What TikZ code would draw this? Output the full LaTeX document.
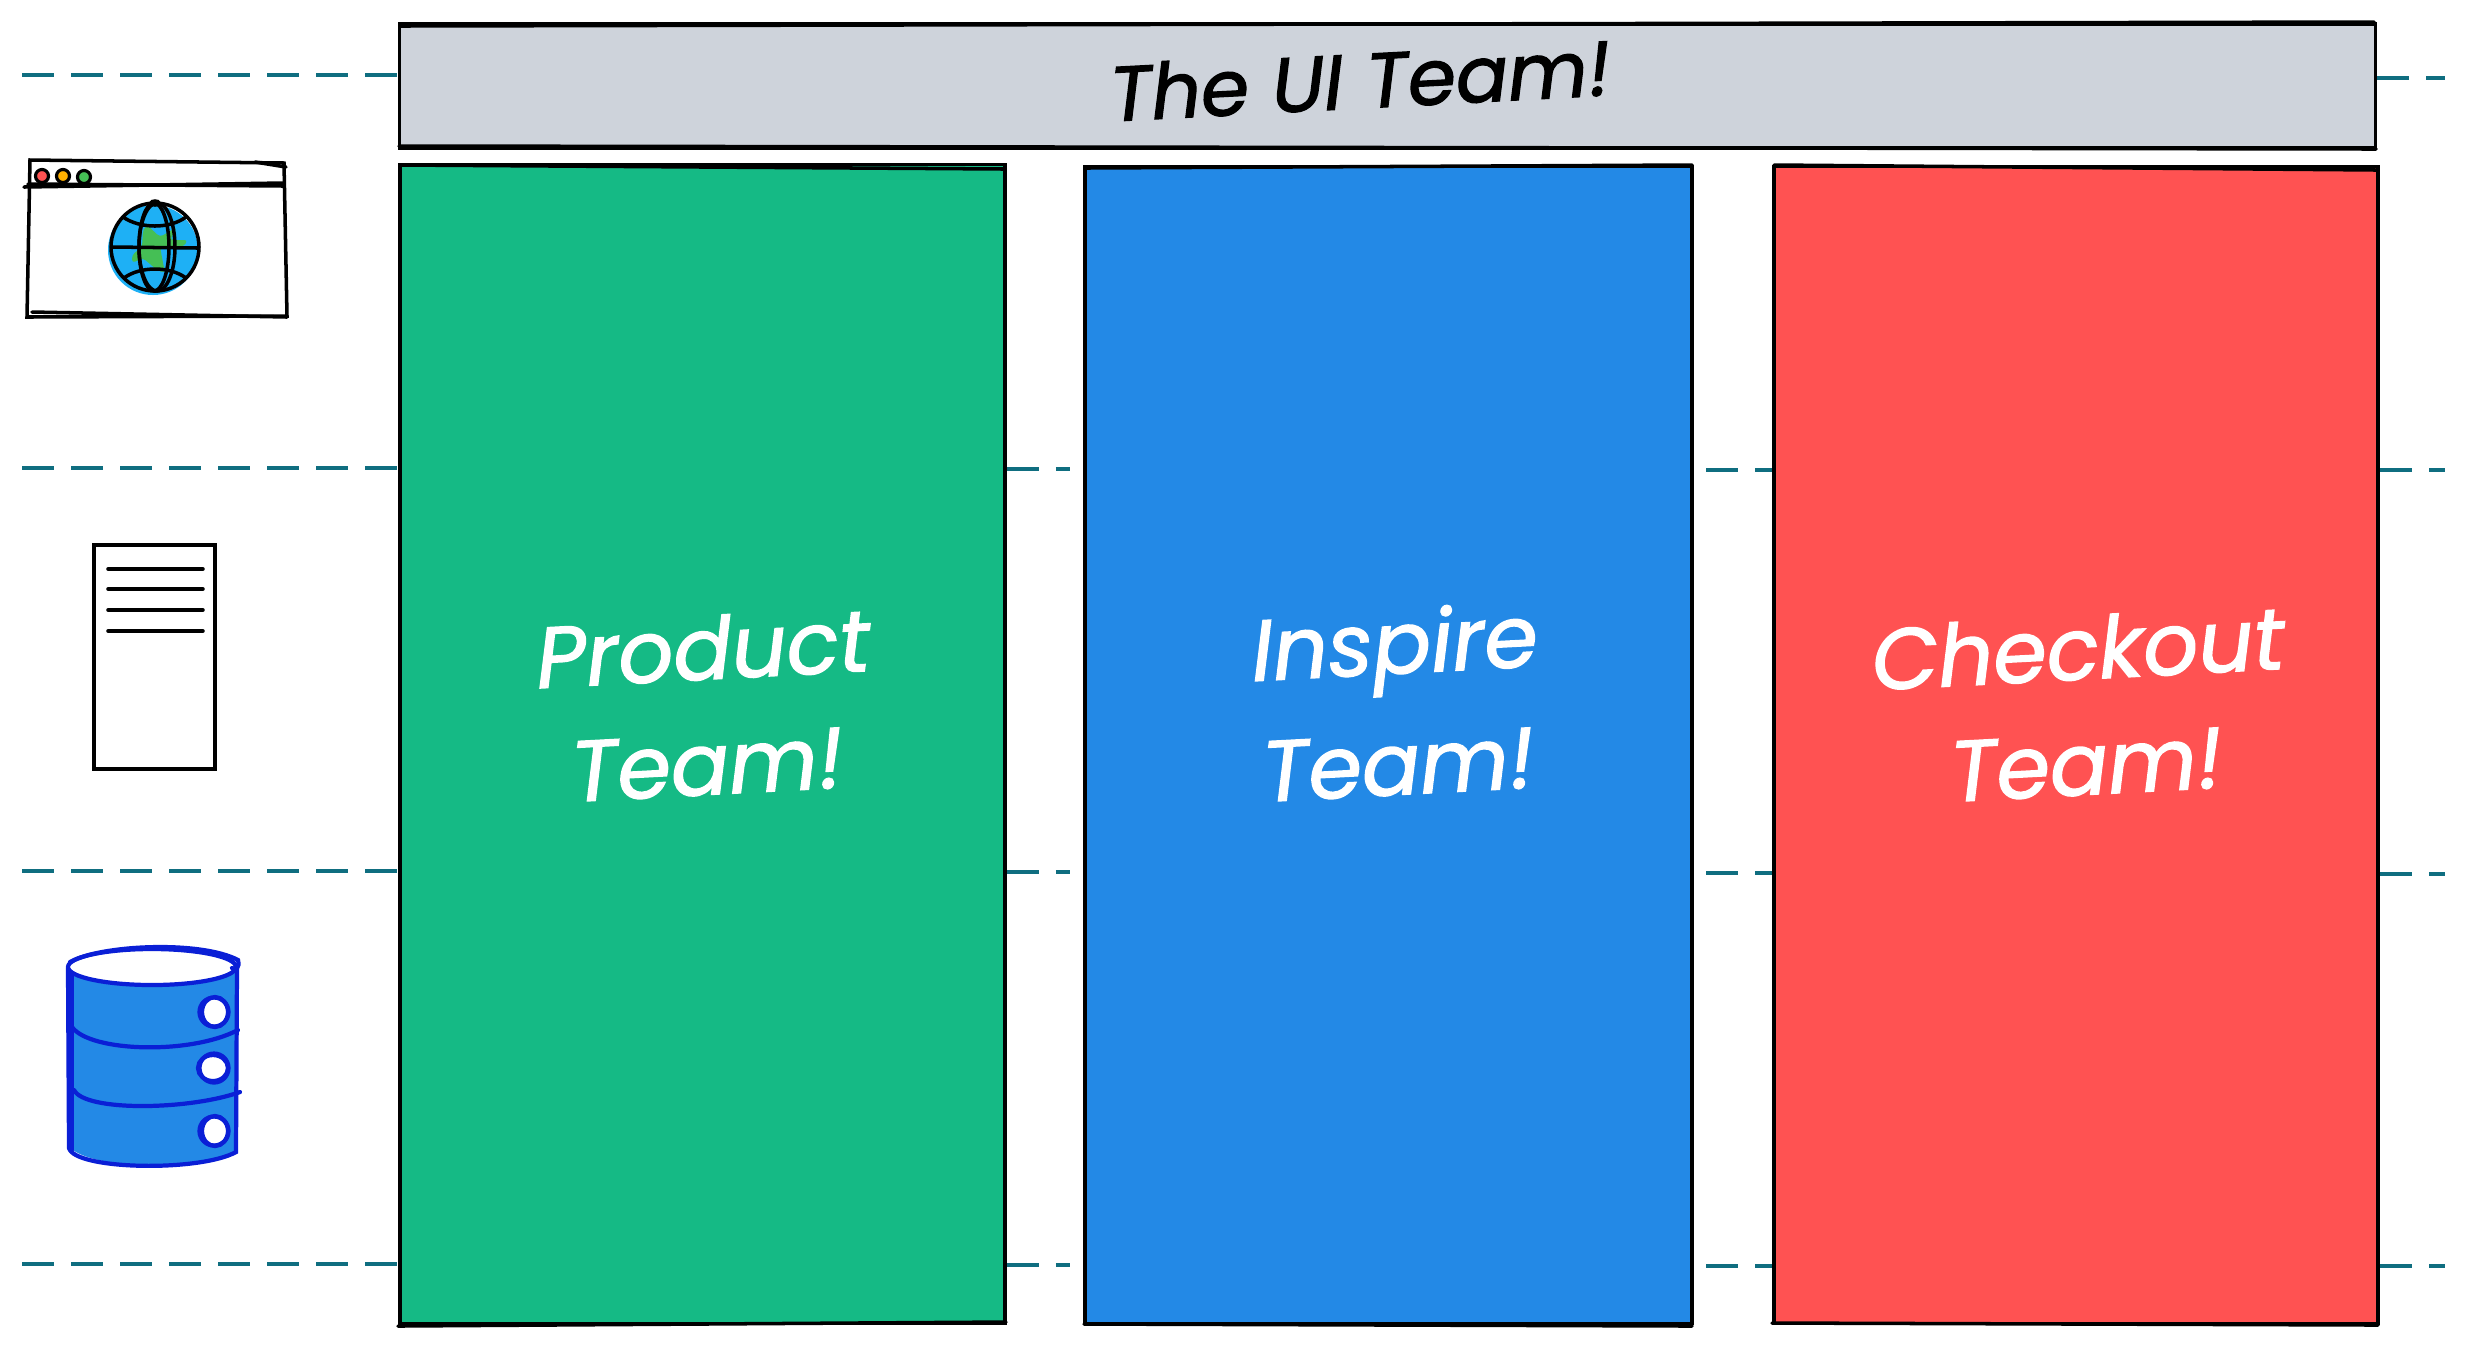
\documentclass[tikz,border=0pt]{standalone}
\usepackage{fontspec}
\setmainfont{Poppins}
\newfontfamily\handfont{Poppins}[ItalicFeatures={FakeBold=1.6}]
\definecolor{cgreen}{HTML}{15BA85}
\definecolor{cblue}{HTML}{2389E6}
\definecolor{cred}{HTML}{FF5252}
\definecolor{cgrey}{HTML}{CED3DB}
\definecolor{cteal}{HTML}{0F6E80}
\definecolor{cdb}{HTML}{0A1FD6}
\definecolor{cdbfill}{HTML}{2389E6}
\definecolor{csea}{HTML}{1EB0F5}
\definecolor{cland}{HTML}{45BF55}
\definecolor{cdot}{HTML}{FF5252}
\definecolor{camber}{HTML}{FFB000}
\tikzset{
  teambox/.style={rectangle,draw=black,line width=1pt,inner sep=0pt,text=white},
  hand/.style={font=\handfont\fontsize{24.5}{28}\selectfont\itshape,inner sep=0pt},
  handt/.style={font=\handfont\fontsize{22}{26}\selectfont\itshape,inner sep=0pt},
  handw/.style={hand,text=white},
  guide/.style={draw=cteal,line width=1.35pt,dash pattern=on 0.32cm off 0.17cm},
  sk/.style={draw=black,line width=1pt,line cap=round},
  dbl/.style={draw=cdb,line width=1.2pt,line cap=round},
  dot/.style={circle,draw=black,line width=0.9pt,minimum size=0.13cm,inner sep=0pt},
  hole/.style={circle,draw=cdb,fill=white,line width=1.2pt,minimum size=0.29cm,inner sep=0pt},
}
\begin{document}
\begin{tikzpicture}[x=0.01cm,y=-0.01cm]
\useasboundingbox (0,0) rectangle (2486,1347.5);
% boxes
\node[teambox,fill=cgrey,minimum width=19.75cm,minimum height=1.24cm] (ui) at (1387.5,86) {};
\node[teambox,fill=cgreen,minimum width=6.05cm,minimum height=11.58cm] (product) at (702.5,744) {};
\node[teambox,fill=cblue,minimum width=6.07cm,minimum height=11.56cm] (inspire) at (1388.5,745) {};
\node[teambox,fill=cred,minimum width=6.04cm,minimum height=11.56cm] (checkout) at (2076,745) {};
% sketch double strokes
\draw[sk] (401,26) -- (2374,22) (399,146) -- (2376,149) (401,165) -- (1004,169) (398,1326) -- (1006,1322)
 (1086,168) -- (1692,165) (1084,1324) -- (1692,1326) (1774,165) -- (2376,170) (1772,1323) -- (2378,1325);
% labels
\node[handt,rotate=3] (uil) at (1360,80) {The UI Team!};
\node[handw,rotate=3] (p1) at (703,648) {Product};
\node[handw,rotate=3] (p2) at (707,765) {Team!};
\node[handw,rotate=3] (i1) at (1395,652) {Inspire};
\node[handw,rotate=3] (i2) at (1398,765) {Team!};
\node[handw,rotate=3] (c1) at (2078,648) {Checkout};
\node[handw,rotate=3] (c2) at (2086,765) {Team!};
% guides
\coordinate (l1) at (22,75);
\coordinate (l2) at (22,468);
\coordinate (l3) at (22,871);
\coordinate (l4) at (22,1264);
\coordinate (r1) at (2445,78);
\coordinate (r2) at (2445,470);
\coordinate (r3) at (2445,874);
\coordinate (r4) at (2445,1266);
\coordinate (a2) at (1070,469);
\coordinate (a3) at (1070,872);
\coordinate (a4) at (1070,1265);
\coordinate (b2) at (1772,470);
\coordinate (b3) at (1772,873);
\coordinate (b4) at (1772,1266);
\draw[guide] (l1) -- (ui.west |- l1);
\draw[guide] (l2) -- (product.west |- l2);
\draw[guide] (l3) -- (product.west |- l3);
\draw[guide] (l4) -- (product.west |- l4);
\draw[guide] (ui.east |- r1) -- (r1);
\draw[guide] (product.east |- a2) -- (a2);
\draw[guide] (product.east |- a3) -- (a3);
\draw[guide] (product.east |- a4) -- (a4);
\draw[guide] (b2) ++(-66,0) -- (b2);
\draw[guide] (b3) ++(-66,0) -- (b3);
\draw[guide] (b4) ++(-66,0) -- (b4);
\draw[guide] (checkout.east |- r2) -- (r2);
\draw[guide] (checkout.east |- r3) -- (r3);
\draw[guide] (checkout.east |- r4) -- (r4);
% browser window
\draw[sk] (30,160) -- (284,163) -- (287,316) -- (27,317) -- cycle;
\draw[sk] (24,187) -- (283,183) (28,184) -- (284,186) (32,312) -- (287,317) (255,162) -- (286,167);
\node[dot,fill=cdot] (d1) at (42,176) {};
\node[dot,fill=camber] (d2) at (63,176) {};
\node[dot,fill=cland] (d3) at (84,177) {};
% globe
\fill[csea] (153,250) circle[radius=45];
\fill[cland,rounded corners=1pt] (147,225) -- (160,237) -- (177,227) -- (170,240) -- (188,240) -- (183,247) -- (160,247) -- (165,273) -- (157,270) -- (143,258) -- (132,263) -- (132,255) -- (142,247) -- (143,230) -- cycle;
\draw[sk] (155,247) circle[radius=44];
\draw[sk] (155,203) ellipse[x radius=4,y radius=2];
\draw[sk] (157,247) ellipse[x radius=18,y radius=44];
\draw[sk] (154,247) ellipse[x radius=15,y radius=44];
\draw[sk] (112,247) -- (198,248);
\draw[sk] (123,217) .. controls (140,229) and (170,229) .. (186,217);
\draw[sk] (124,278) .. controls (140,266) and (170,266) .. (186,278);
% document
\draw[draw=black,line width=1.25pt] (94,545) rectangle (215,769);
\draw[sk] (108,569) -- (203,569) (108,589) -- (203,589) (108,610) -- (203,610) (108,631) -- (203,631);
% database
\path[fill=cdbfill] (68,968) -- (236,968) -- (237,1150) .. controls (200,1170) and (100,1170) .. (73,1150) -- cycle;
\draw[dbl] (68,968) -- (69,1148) .. controls (75,1170) and (200,1172) .. (236,1152) -- (237,968);
\draw[dbl] (72,970) -- (72,1150);
\draw[dbl,fill=white] (152,967) ellipse[x radius=84,y radius=18];
\draw[dbl] (70,962) .. controls (100,945) and (200,940) .. (238,960) .. controls (240,968) and (236,970) .. (232,968);
\draw[dbl] (72,1027) .. controls (90,1052) and (190,1055) .. (238,1030);
\draw[dbl] (74,1090) .. controls (85,1112) and (190,1110) .. (240,1092);
\node[hole] (h1) at (214,1012) {};
\node[hole] (h2) at (214,1068) {};
\node[hole] (h3) at (214,1131) {};
\draw[dbl] (215,1012) ellipse[x radius=13,y radius=15] (213,1068) ellipse[x radius=15,y radius=13] (215,1131) ellipse[x radius=13,y radius=15];
\end{tikzpicture}
\end{document}
